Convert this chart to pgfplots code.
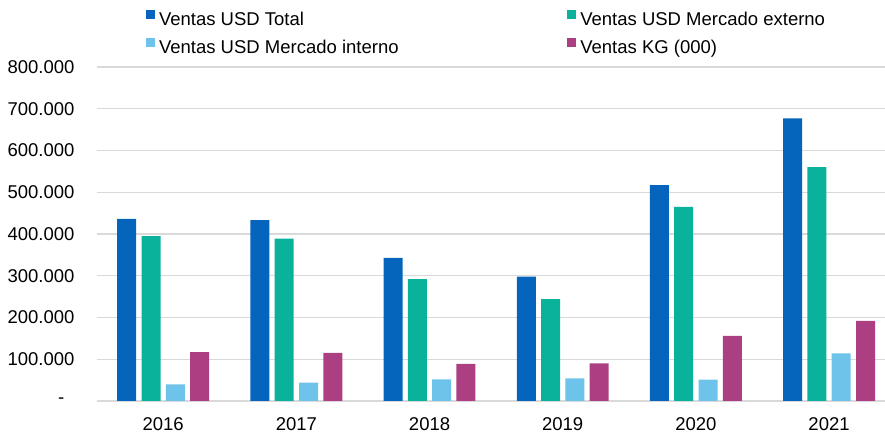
\documentclass[border=0pt]{standalone}
\usepackage{fontspec}
\setmainfont{Liberation Sans}
\usepackage{pgfplots}
\pgfplotsset{compat=1.18}
\definecolor{cTot}{RGB}{5,100,187}
\definecolor{cExt}{RGB}{10,178,155}
\definecolor{cInt}{RGB}{110,195,234}
\definecolor{cKG}{RGB}{172,62,130}
\definecolor{cGrid}{RGB}{217,217,217}
\newcommand{\fs}{\fontsize{18.5bp}{21bp}\selectfont}
\begin{document}
\begin{tikzpicture}
\path[use as bounding box] (0,0) rectangle (885bp,436bp);
\begin{axis}[
  at={(96.6bp,35bp)}, anchor=south west,
  scale only axis, width=788.4bp, height=334bp,
  xmin=-0.5, xmax=5.42, ymin=0, ymax=800000,
  ybar=5.3bp, bar width=19bp,
  axis line style={draw=none},
  major tick length=0pt,
  xtick={0,1,2,3,4,5},
  xticklabels={2016,2017,2018,2019,2020,2021},
  ytick={0,100000,200000,300000,400000,500000,600000,700000,800000},
  yticklabels={{-\rule{10bp}{0pt}},100.000,200.000,300.000,400.000,500.000,600.000,700.000,800.000},
  scaled y ticks=false,
  /pgf/number format/assume math mode=true,
  ymajorgrids, major grid style={draw=cGrid, line width=1.1bp},
  yticklabel style={font=\fs, inner sep=0pt, anchor=east, xshift=-22bp},
  xticklabel style={font=\fs, inner sep=0pt, anchor=north, yshift=-16.5bp},
  legend columns=2,
  legend cell align=left,
  legend style={draw=none, fill=none, inner sep=0pt, outer sep=0pt,
    at={(0.0623,1.1707)}, anchor=north west,
    column sep=4bp, row sep=8bp,
    nodes={inner sep=0pt, outer sep=0pt, text height=13bp, text depth=4bp, font=\fs}},
  legend image code/.code={\fill[#1] (0bp,1.8bp) rectangle (9.3bp,11.1bp);},
]
\addplot[draw=none, fill=cTot] coordinates {(0,436000) (1,433000) (2,343000) (3,298000) (4,517000) (5,677000)};
\addlegendentry{\makebox[404bp][l]{Ventas USD Total}}
\addplot[draw=none, fill=cExt] coordinates {(0,395000) (1,389000) (2,292000) (3,244000) (4,465000) (5,560000)};
\addlegendentry{Ventas USD Mercado externo}
\addplot[draw=none, fill=cInt] coordinates {(0,40000) (1,44000) (2,52000) (3,54000) (4,51000) (5,114000)};
\addlegendentry{\makebox[404bp][l]{Ventas USD Mercado interno}}
\addplot[draw=none, fill=cKG] coordinates {(0,117000) (1,115000) (2,89000) (3,90000) (4,156000) (5,192000)};
\addlegendentry{Ventas KG (000)}
\end{axis}
\end{tikzpicture}
\end{document}
